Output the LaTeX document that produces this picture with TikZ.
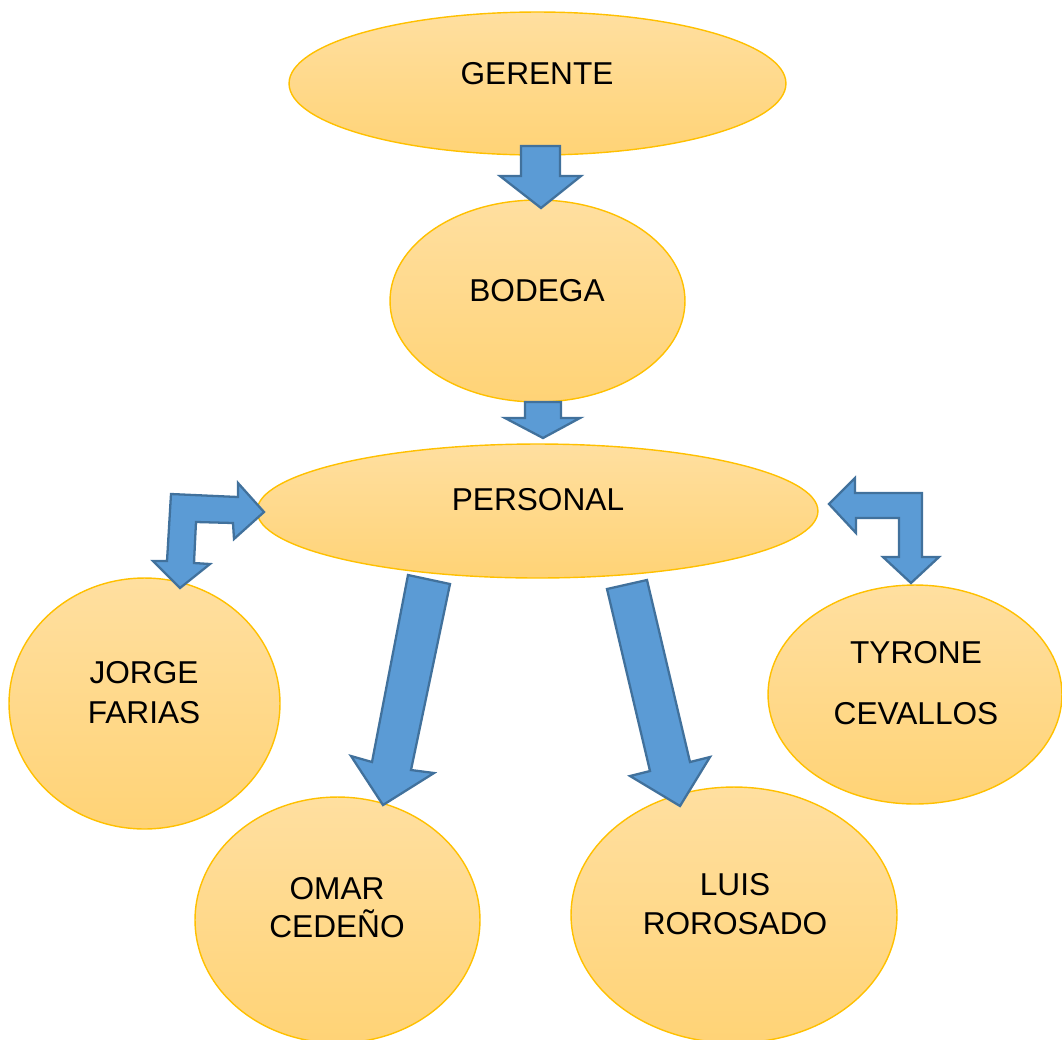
\documentclass[tikz,border=0pt]{standalone}
\usepackage{fontspec}
\setmainfont{Liberation Sans}
\usetikzlibrary{shapes.geometric}
\definecolor{ellTop}{RGB}{255,223,160}
\definecolor{ellBot}{RGB}{255,211,118}
\definecolor{ellLine}{RGB}{255,192,0}
\definecolor{arrFill}{RGB}{91,155,213}
\definecolor{arrLine}{RGB}{65,113,156}
\tikzset{
  bubble/.style={ellipse, draw=ellLine, line width=0.8pt, top color=ellTop, bottom color=ellBot, inner sep=0pt},
  lbl/.style={anchor=base, align=center, inner sep=0pt, font=\fontsize{18}{22.5}\selectfont},
  blockarrow/.style={fill=arrFill, draw=arrLine, line width=1.3pt, line join=miter},
}
\begin{document}
\begin{tikzpicture}[x=0.02cm,y=-0.02cm]
\useasboundingbox (0,0) rectangle (1062,1039);
\clip (0,0) rectangle (1062,1039);
% ellipses
\node[bubble, minimum width=9.94cm, minimum height=2.86cm] (ger) at (537.5,83.5) {};
\node[bubble, minimum width=5.9cm, minimum height=4.04cm] (bod) at (537.5,301) {};
\node[bubble, minimum width=11.22cm, minimum height=2.68cm] (per) at (537.5,511) {};
\node[bubble, minimum width=5.42cm, minimum height=5.02cm] (jor) at (144.5,703.5) {};
\node[bubble, minimum width=5.7cm, minimum height=4.92cm] (oma) at (337.5,920) {};
\node[bubble, minimum width=6.52cm, minimum height=5.12cm] (lui) at (734,915) {};
\node[bubble, minimum width=5.88cm, minimum height=4.38cm] (tyr) at (915,694.5) {};
% labels (multi-line nodes: base = last line's baseline)
\node[lbl] (tger) at (537,84.5) {GERENTE};
\node[lbl] (tbod) at (537,301.5) {BODEGA};
\node[lbl] (tper) at (538,510.5) {PERSONAL};
\node[lbl] (tjor) at (144,723.5) {JORGE\\FARIAS};
\node[lbl, font=\fontsize{18}{21.5}\selectfont] (toma) at (337,937.5) {OMAR\\CEDEÑO};
\node[lbl, font=\fontsize{18}{22.1}\selectfont] (tlui) at (735,934.5) {LUIS\\ROROSADO};
\node[lbl, font=\fontsize{18}{34.6}\selectfont] (ttyr) at (916,724.5) {TYRONE\\CEVALLOS};
% block arrows
\filldraw[blockarrow] (521,146) -- (560,146) -- (560,176) -- (581,176) -- (541,208) -- (500,176) -- (521,176) -- cycle;
\filldraw[blockarrow] (525,402) -- (561,402) -- (561,418) -- (580,418) -- (543,438) -- (505,418) -- (525,418) -- cycle;
\filldraw[blockarrow] (264,512) -- (234,539) -- (233,523) -- (196,522) -- (194,563) -- (210,564) -- (180,588) -- (153,561) -- (167,561) -- (171,494) -- (238,497) -- (238,483) -- cycle;
\filldraw[blockarrow] (829,504) -- (855,478) -- (855,493) -- (922,493) -- (922,557) -- (939,557) -- (911,583) -- (883,557) -- (899,557) -- (899,518) -- (856,518) -- (856,533) -- cycle;
\filldraw[blockarrow] (408,575) -- (450,584) -- (411,770) -- (434,773) -- (383,805) -- (351,756) -- (372,762) -- cycle;
\filldraw[blockarrow] (607,589) -- (647,580) -- (690,762) -- (710,757) -- (680,806) -- (630,776) -- (650,771) -- cycle;
\end{tikzpicture}
\end{document}
